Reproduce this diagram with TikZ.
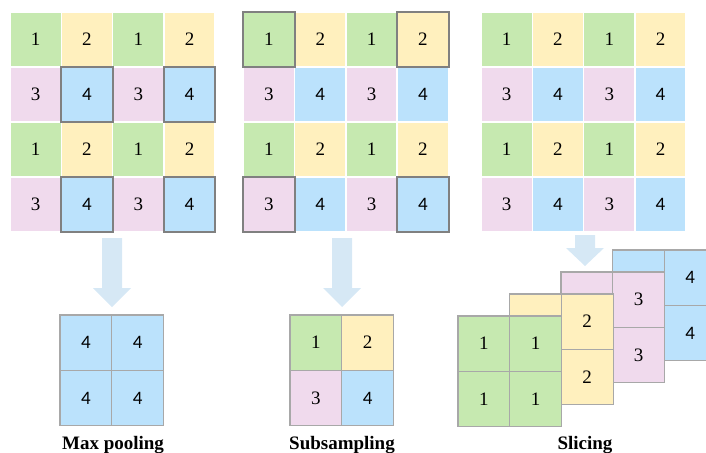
\documentclass[tikz,border=0pt]{standalone}
\usepackage{fontspec}
\setmainfont{Liberation Serif}
\newfontfamily\fourfont{Carlito}
\usetikzlibrary{calc}
\definecolor{c1}{RGB}{198,233,176}
\definecolor{c2}{RGB}{255,240,190}
\definecolor{c3}{RGB}{240,218,237}
\definecolor{c4}{RGB}{187,226,252}
\definecolor{arrowfill}{RGB}{214,232,245}
\definecolor{hlgray}{RGB}{128,128,128}
\definecolor{linegray}{RGB}{168,168,168}
\newcommand{\numtext}[1]{\ifnum#1=4 {\fourfont #1}\else #1\fi}
% block arrow: centre x, top y, neck y, tip y
\newcommand{\blockarrow}[4]{%
  \fill[arrowfill] (#1-10,#2) -- (#1+10,#2) -- (#1+10,#3) -- (#1+19,#3)
    -- (#1,#4) -- (#1-19,#3) -- (#1-10,#3) -- cycle;}

\begin{document}
\begin{tikzpicture}[x=1pt, y=-1pt,
  cell/.style={minimum width=\cw pt, minimum height=\ch pt, inner sep=0pt,
    draw=white, line width=1.5pt, font=\rmfamily\fontsize{19}{19}\selectfont},
  smallcell/.style={minimum width=\sw pt, minimum height=\sh pt, inner sep=0pt,
    draw=linegray, line width=1.2pt, font=\rmfamily\fontsize{19}{19}\selectfont},
  hl/.style={draw=hlgray, line width=2pt},
  caption/.style={anchor=base, font=\rmfamily\bfseries\fontsize{19}{19}\selectfont}]
  \useasboundingbox (0,0) rectangle (706,452);
  \clip (0,0) rectangle (706,452);

  \def\cw{51.3}
  \def\ch{55}
  \def\yo{12}
  \def\sw{51.8}
  \def\sh{55.4}

  % input maps
  \foreach \g/\xo in {a/10, b/243.3, c/481} {
    \foreach \r in {0,...,3} {
      \foreach \c in {0,...,3} {
        \pgfmathtruncatemacro{\v}{1+mod(\c,2)+2*mod(\r,2)}
        \node[cell, fill=c\v] (\g-\r-\c) at (\xo+\c*\cw+\cw/2, \yo+\r*\ch+\ch/2) {\numtext{\v}};
      }
    }
  }

  % picked cells
  \foreach \n in {a-1-1, a-1-3, a-3-1, a-3-3, b-0-0, b-0-3, b-3-0, b-3-3}
    \draw[hl] ($(\n.north west)+(0.75,0.75)$) rectangle ($(\n.south east)+(-0.75,-0.75)$);

  % arrows
  \blockarrow{112}{238}{288}{307}
  \blockarrow{342}{238}{288}{307}
  \blockarrow{585}{235}{248}{266}

  % max pooling
  \foreach \r in {0,1} {
    \foreach \c in {0,1} {
      \node[smallcell, fill=c4] (mp-\r-\c) at (60+\c*\sw+\sw/2, 315+\r*\sh+\sh/2) {\numtext{4}};
    }
  }
  \node[caption] (mplabel) at (113,449) {Max pooling};

  % subsampling
  \foreach \r in {0,1} {
    \foreach \c in {0,1} {
      \pgfmathtruncatemacro{\v}{1+\c+2*\r}
      \node[smallcell, fill=c\v] (ss-\r-\c) at (290+\c*\sw+\sw/2, 315+\r*\sh+\sh/2) {\numtext{\v}};
    }
  }
  \node[caption] (sslabel) at (342,449) {Subsampling};

  % slicing, back layer first (covered numbers left out)
  \foreach \k in {3,2,1,0} {
    \pgfmathtruncatemacro{\v}{\k+1}
    \foreach \r in {0,1} {
      \foreach \c in {0,1} {
        \pgfmathtruncatemacro{\shown}{(\c==1)||(\k==0)}
        \node[smallcell, fill=c\v] (sl\k-\r-\c) at (458+\k*51.5+\c*\sw+\sw/2, 316-\k*22+\r*\sh+\sh/2) {\ifnum\shown=1 \numtext{\v}\fi};
      }
    }
  }
  \node[caption] (sllabel) at (585,449) {Slicing};

\end{tikzpicture}
\end{document}
